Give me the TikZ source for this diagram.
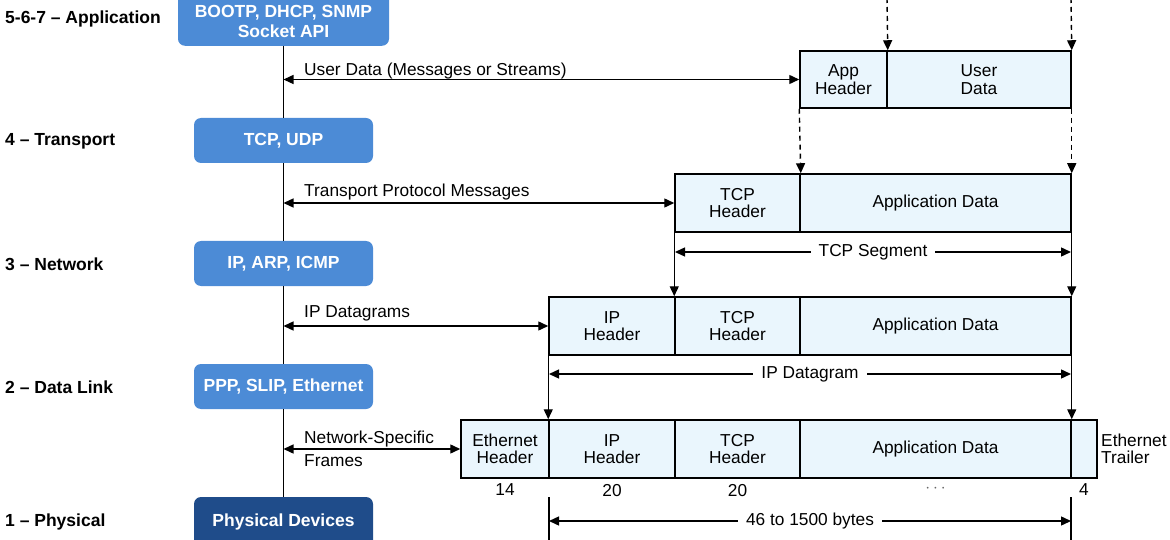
\documentclass[tikz,border=0pt]{standalone}
\usepackage{fontspec}
\setmainfont{Liberation Sans}
\usetikzlibrary{arrows.meta,positioning}

\definecolor{layerblue}{RGB}{76,139,214}
\definecolor{physblue}{RGB}{31,76,138}
\definecolor{cellblue}{RGB}{234,246,253}
\newcommand{\txt}{\fontsize{17.3}{17.5}\selectfont}
\newcommand{\btxt}{\fontsize{17.5}{20}\selectfont\bfseries}

\begin{document}
\begin{tikzpicture}[x=1pt,y=-1pt,
  layer/.style={rounded corners=7pt,fill=layerblue,text=white,font=\btxt,
    minimum width=179pt,minimum height=45pt,align=center,inner sep=0pt},
  cell/.style={draw,line width=1.5pt,fill=cellblue,minimum height=58pt,
    inner sep=0pt,align=center,font=\txt},
  lbl/.style={font=\txt,inner sep=0pt},
  layname/.style={font=\btxt,inner sep=0pt,anchor=west},
  flow/.style={line width=1.4pt,{Triangle[length=10pt,width=9pt]}-{Triangle[length=10pt,width=9pt]}},
  down/.style={line width=1.4pt,-{Triangle[length=10pt,width=9pt]}},
  dashdown/.style={down,dash pattern=on 5pt off 4pt}]
\useasboundingbox (0,0) rectangle (1170,540);

% layer names
\node[layname] (n7) at (5,19) {5-6-7 -- Application};
\node[layname] (n4) at (5,141) {4 -- Transport};
\node[layname] (n3) at (5,264) {3 -- Network};
\node[layname] (n2) at (5,387) {2 -- Data Link};
\node[layname] (n1) at (5,522) {1 -- Physical};

% protocol boxes
\node[layer,minimum width=211pt,minimum height=70pt,anchor=south] (app) at (283.5,46) {};
\node[font=\btxt,text=white,align=center,inner sep=0pt] (appt) at (283.5,21) {BOOTP, DHCP, SNMP\\Socket API};
\node[layer] (tcp) at (283.5,140.5) {TCP, UDP};
\node[layer] (ip) at (283.5,263.5) {IP, ARP, ICMP};
\node[layer] (link) at (283.5,386.5) {PPP, SLIP, Ethernet};
\node[layer,fill=physblue,minimum height=60pt] (phys) at (283.5,527) {};
\node[font=\btxt,text=white,inner sep=0pt] (physt) at (283.5,522) {Physical Devices};
\draw[line width=1.6pt] (app.south) -- (tcp.north);
\draw[line width=1.6pt] (tcp.south) -- (ip.north);
\draw[line width=1.6pt] (ip.south) -- (link.north);
\draw[line width=1.6pt] (link.south) -- (phys.north);

% application row
\node[cell,minimum width=87pt,minimum height=57pt] (ahdr) at (843.5,79.5) {App\\Header};
\node[cell,minimum width=184pt,minimum height=57pt] (udata) at (979,79.5) {User\\Data};
% transport row
\node[cell,minimum width=125pt] (thdr) at (737.5,203) {TCP\\Header};
\node[cell,minimum width=271pt] (tapp) at (935.5,203) {Application Data};
% network row
\node[cell,minimum width=126pt] (iip) at (612,326) {IP\\Header};
\node[cell,minimum width=125pt] (itcp) at (737.5,326) {TCP\\Header};
\node[cell,minimum width=271pt] (iapp) at (935.5,326) {Application Data};
% data link row
\node[cell,minimum width=88pt] (ehdr) at (505,449) {Ethernet\\Header};
\node[cell,minimum width=126pt] (eip) at (612,449) {IP\\Header};
\node[cell,minimum width=125pt] (etcp) at (737.5,449) {TCP\\Header};
\node[cell,minimum width=271pt] (eapp) at (935.5,449) {Application Data};
\node[cell,minimum width=26pt] (etrl) at (1084,449) {};
\node[lbl,anchor=west,align=left] (trl) at (1101,449) {Ethernet\\Trailer};

% byte counts
\node[lbl,below=5pt of ehdr] (b14) {14};
\node[lbl,below=5pt of eip] (b20a) {20};
\node[lbl,below=5pt of etcp] (b20b) {20};
\node[lbl,below=6pt of eapp,text=black!60] (bdots) {$\cdots$};
\node[lbl,below=5pt of etrl] (b4) {4};

% flows to the stack
\draw[flow] (app.south |- ahdr.west) -- (ahdr.west);
\node[lbl,anchor=base west] (ul) at (304,76) {User Data (Messages or Streams)};
\draw[flow] (tcp.south |- thdr.west) -- (thdr.west);
\node[lbl,anchor=base west] (tl) at (304,197) {Transport Protocol Messages};
\draw[flow] (ip.south |- iip.west) -- (iip.west);
\node[lbl,anchor=base west] (il) at (304,317) {IP Datagrams};
\draw[flow] (link.south |- ehdr.west) -- (ehdr.west);
\node[lbl,anchor=west,align=left,font=\fontsize{17.3}{23}\selectfont] (el) at (304,449) {Network-Specific\\Frames};

% encapsulation
\coordinate (t1) at (887,-2);
\coordinate (t2) at (1071,-2);
\draw[dashdown] (t1) -- (ahdr.north east);
\draw[dashdown] (t2) -- (udata.north east);
\draw[dashdown] (ahdr.south west) -- (thdr.north east);
\draw[dashdown] (udata.south east) -- (tapp.north east);
\draw[down] (thdr.south west) -- (itcp.north west);
\draw[down] (tapp.south east) -- (iapp.north east);
\draw[down] (iip.south west) -- (eip.north west);
\draw[down] (iapp.south east) -- (eapp.north east);

% sizes
\coordinate (sl) at (675,252);
\coordinate (sr) at (1071,252);
\draw[flow] (sl) -- node[lbl,fill=white,inner xsep=8pt,inner ysep=2pt] {TCP Segment} (sr);
\coordinate (dl) at (549,374);
\coordinate (dr) at (1071,374);
\draw[flow] (dl) -- node[lbl,fill=white,inner xsep=8pt,inner ysep=2pt] {IP Datagram} (dr);
\coordinate (pl) at (549,497);
\coordinate (pl2) at (549,542);
\coordinate (pr) at (1071,497);
\coordinate (pr2) at (1071,542);
\draw[line width=1.4pt] (pl) -- (pl2);
\draw[line width=1.4pt] (pr) -- (pr2);
\coordinate (fl) at (549,521);
\coordinate (fr) at (1071,521);
\draw[flow] (fl) -- node[lbl,fill=white,inner xsep=8pt,inner ysep=2pt] {46 to 1500 bytes} (fr);
\end{tikzpicture}
\end{document}
